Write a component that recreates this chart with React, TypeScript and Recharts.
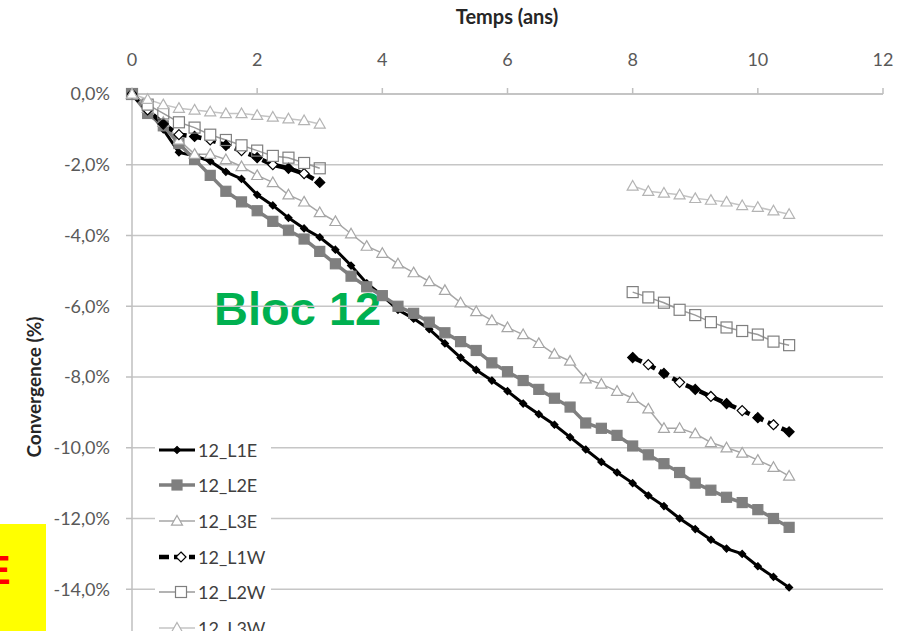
import { CartesianGrid, Line, LineChart, XAxis, YAxis } from 'recharts'

// Time axis (years) shared by every series
const TIME = [
  0, 0.25, 0.5, 0.75, 1, 1.25, 1.5, 1.75, 2, 2.25, 2.5, 2.75, 3,
  3.25, 3.5, 3.75, 4, 4.25, 4.5, 4.75, 5, 5.25, 5.5, 5.75, 6,
  6.25, 6.5, 6.75, 7, 7.25, 7.5, 7.75, 8, 8.25, 8.5, 8.75, 9, 9.25, 9.5, 9.75, 10, 10.25, 10.5,
]

// Convergence in %, east side lines
const L1E = [
  0, -0.45, -1.0, -1.65, -1.75, -1.9, -2.2, -2.4, -2.85, -3.15, -3.5, -3.8, -4.05,
  -4.4, -4.85, -5.35, -5.7, -6.1, -6.35, -6.65, -7.05, -7.45, -7.8, -8.1, -8.4,
  -8.75, -9.05, -9.35, -9.7, -10.05, -10.4, -10.7, -11.0, -11.35, -11.65, -12.0, -12.3, -12.6, -12.85, -13.0, -13.35, -13.65, -13.95,
]
const L2E = [
  0, -0.55, -0.9, -1.4, -1.85, -2.3, -2.75, -3.05, -3.3, -3.6, -3.85, -4.1, -4.45,
  -4.8, -5.15, -5.45, -5.7, -6.0, -6.2, -6.45, -6.75, -7.0, -7.25, -7.6, -7.85,
  -8.1, -8.35, -8.6, -8.85, -9.3, -9.45, -9.65, -9.95, -10.2, -10.45, -10.7, -11.0, -11.2, -11.4, -11.55, -11.75, -12.0, -12.25,
]
const L3E = [
  0, -0.4, -0.8, -1.3, -1.7, -1.7, -1.85, -2.05, -2.3, -2.5, -2.85, -3.05, -3.35,
  -3.6, -3.95, -4.3, -4.5, -4.8, -5.05, -5.3, -5.55, -5.9, -6.15, -6.4, -6.6,
  -6.8, -7.05, -7.35, -7.55, -8.05, -8.2, -8.4, -8.6, -8.9, -9.45, -9.45, -9.6, -9.85, -10.0, -10.15, -10.35, -10.55, -10.8,
]

// West side lines: no readings between 3 and 8 years
const L1W = [
  0, -0.45, -0.85, -1.15, -1.2, -1.3, -1.45, -1.6, -1.8, -2.0, -2.1, -2.25, -2.5,
  null, null, null, null, null, null, null, null, null, null, null, null,
  null, null, null, null, null, null, null,
  -7.45, -7.65, -7.9, -8.15, -8.35, -8.55, -8.75, -8.95, -9.15, -9.35, -9.55,
]
const L2W = [
  0, -0.3, -0.55, -0.8, -0.95, -1.15, -1.3, -1.45, -1.6, -1.75, -1.8, -1.95, -2.1,
  null, null, null, null, null, null, null, null, null, null, null, null,
  null, null, null, null, null, null, null,
  -5.6, -5.75, -5.9, -6.1, -6.25, -6.45, -6.6, -6.7, -6.8, -7.0, -7.1,
]
const L3W = [
  0, -0.15, -0.3, -0.4, -0.45, -0.5, -0.55, -0.55, -0.6, -0.65, -0.7, -0.75, -0.85,
  null, null, null, null, null, null, null, null, null, null, null, null,
  null, null, null, null, null, null, null,
  -2.6, -2.75, -2.8, -2.85, -2.95, -3.0, -3.05, -3.15, -3.2, -3.3, -3.4,
]

const X_TICKS = [0, 2, 4, 6, 8, 10, 12]
const Y_TICKS = [0, -2, -4, -6, -8, -10, -12, -14]

type Shape = 'diamond' | 'square' | 'triangle'

interface SeriesDef {
  key: string
  name: string
  values: (number | null)[]
  stroke: string
  width: number
  dash?: string
  shape: Shape
  size: number
  markerStroke: string
  fill: string
  altFill?: string
}

const SERIES: SeriesDef[] = [
  { key: 'l1e', name: '12_L1E', values: L1E, stroke: '#000000', width: 3, shape: 'diamond', size: 7, markerStroke: '#000000', fill: '#000000' },
  { key: 'l2e', name: '12_L2E', values: L2E, stroke: '#7f7f7f', width: 3.5, shape: 'square', size: 10, markerStroke: '#7f7f7f', fill: '#7f7f7f' },
  { key: 'l3e', name: '12_L3E', values: L3E, stroke: '#a6a6a6', width: 1.5, shape: 'triangle', size: 11, markerStroke: '#a6a6a6', fill: '#ffffff' },
  { key: 'l1w', name: '12_L1W', values: L1W, stroke: '#000000', width: 4.5, dash: '10 5', shape: 'diamond', size: 10, markerStroke: '#000000', fill: '#000000', altFill: '#ffffff' },
  { key: 'l2w', name: '12_L2W', values: L2W, stroke: '#9a9a9a', width: 1.5, shape: 'square', size: 11, markerStroke: '#7f7f7f', fill: 'none', altFill: '#ffffff' },
  { key: 'l3w', name: '12_L3W', values: L3W, stroke: '#c4c4c4', width: 1.5, shape: 'triangle', size: 11, markerStroke: '#b4b4b4', fill: '#ffffff' },
]

const data = TIME.map((t, i) => {
  const row: Record<string, number | null> = { t }
  SERIES.forEach((s) => {
    row[s.key] = s.values[i]
  })
  return row
})

const FONT = 'Lato, "Open Sans", sans-serif'

function Marker({ shape, x, y, size, fill, stroke }: { shape: Shape; x: number; y: number; size: number; fill: string; stroke: string }) {
  const h = size / 2
  if (shape === 'diamond') {
    return <path d={`M${x},${y - h}L${x + h},${y}L${x},${y + h}L${x - h},${y}Z`} fill={fill} stroke={stroke} strokeWidth={1.2} />
  }
  if (shape === 'square') {
    return <rect x={x - h} y={y - h} width={size} height={size} fill={fill} stroke={stroke} strokeWidth={1.2} />
  }
  return <path d={`M${x},${y - h}L${x + h},${y + h * 0.75}L${x - h},${y + h * 0.75}Z`} fill={fill} stroke={stroke} strokeWidth={1.2} />
}

function makeDot(s: SeriesDef) {
  return (props: any) => {
    const { cx, cy, index, value } = props
    if (value == null || cx == null || cy == null) return <g key={`${s.key}-${index}`} />
    const fill = s.altFill && index % 2 === 1 ? s.altFill : s.fill
    return (
      <g key={`${s.key}-${index}`}>
        <Marker shape={s.shape} x={cx} y={cy} size={s.size} fill={fill} stroke={s.markerStroke} />
      </g>
    )
  }
}

function formatPct(v: number) {
  return `${v.toFixed(1).replace('.', ',')}%`
}

function ChartLegend() {
  return (
    <div
      style={{
        position: 'absolute',
        left: 155,
        top: 432,
        width: 116,
        background: '#ffffff',
        fontFamily: FONT,
        fontSize: 18,
        color: '#404040',
      }}
    >
      {SERIES.map((s) => (
        <div key={s.key} style={{ display: 'flex', alignItems: 'center', height: 35.6 }}>
          <svg width={42} height={20} style={{ flex: 'none' }}>
            <line x1={4} y1={10} x2={40} y2={10} stroke={s.stroke} strokeWidth={s.width} strokeDasharray={s.dash} />
            <Marker shape={s.shape} x={s.altFill ? 26 : 22} y={10} size={s.size} fill={s.altFill ?? s.fill} stroke={s.markerStroke} />
          </svg>
          <span style={{ marginLeft: 1 }}>{s.name}</span>
        </div>
      ))}
    </div>
  )
}

export default function App() {
  return (
    <div style={{ position: 'fixed', left: 0, top: 0, width: 908, height: 631, overflow: 'hidden', background: '#ffffff' }}>
      {/* block label sits under the grid and series */}
      <div
        style={{
          position: 'absolute',
          left: 214,
          top: 286,
          fontFamily: '"Liberation Sans", Arial, sans-serif',
          fontWeight: 700,
          fontSize: 47,
          lineHeight: '46px',
          color: '#00b050',
          whiteSpace: 'nowrap',
        }}
      >
        Bloc 12
      </div>

      <div style={{ position: 'absolute', left: 0, top: 0 }}>
        <LineChart width={908} height={700} data={data} margin={{ top: 50, right: 25, bottom: 40, left: 0 }}>
          <CartesianGrid vertical={false} stroke="#c6c6c6" strokeWidth={1.5} />
          <XAxis
            dataKey="t"
            type="number"
            orientation="top"
            domain={[0, 12]}
            ticks={X_TICKS}
            height={44}
            tickSize={6}
            tickMargin={22}
            axisLine={{ stroke: '#bfbfbf', strokeWidth: 1.5 }}
            tickLine={{ stroke: '#bfbfbf', strokeWidth: 1.5 }}
            tick={{ fontSize: 18, fill: '#595959', fontFamily: FONT }}
          />
          <YAxis
            type="number"
            domain={[-16, 0]}
            ticks={Y_TICKS}
            width={132}
            tickSize={6}
            tickMargin={16}
            tickFormatter={formatPct}
            axisLine={{ stroke: '#bfbfbf', strokeWidth: 1.5 }}
            tickLine={{ stroke: '#bfbfbf', strokeWidth: 1.5 }}
            tick={{ fontSize: 18, fill: '#595959', fontFamily: FONT }}
          />
          {SERIES.map((s) => (
            <Line
              key={s.key}
              dataKey={s.key}
              name={s.name}
              type="linear"
              stroke={s.stroke}
              strokeWidth={s.width}
              strokeDasharray={s.dash}
              dot={makeDot(s)}
              activeDot={false}
              isAnimationActive={false}
            />
          ))}
        </LineChart>
      </div>

      <div
        style={{
          position: 'absolute',
          left: 507,
          top: 4,
          transform: 'translateX(-50%)',
          fontFamily: FONT,
          fontWeight: 700,
          fontSize: 20,
          color: '#262626',
          whiteSpace: 'nowrap',
        }}
      >
        Temps (ans)
      </div>
      <div
        style={{
          position: 'absolute',
          left: 33,
          top: 387,
          transform: 'translate(-50%, -50%) rotate(-90deg)',
          fontFamily: FONT,
          fontWeight: 700,
          fontSize: 19,
          color: '#262626',
          whiteSpace: 'nowrap',
        }}
      >
        Convergence (%)
      </div>

      <ChartLegend />

      <div style={{ position: 'absolute', left: 0, top: 524, width: 46, height: 120, background: '#ffff00', overflow: 'hidden' }}>
        <div
          style={{
            position: 'absolute',
            left: -16,
            top: 26,
            fontFamily: '"Liberation Sans", Arial, sans-serif',
            fontWeight: 700,
            fontSize: 40,
            lineHeight: '40px',
            color: '#ff0000',
          }}
        >
          E
        </div>
      </div>
    </div>
  )
}
